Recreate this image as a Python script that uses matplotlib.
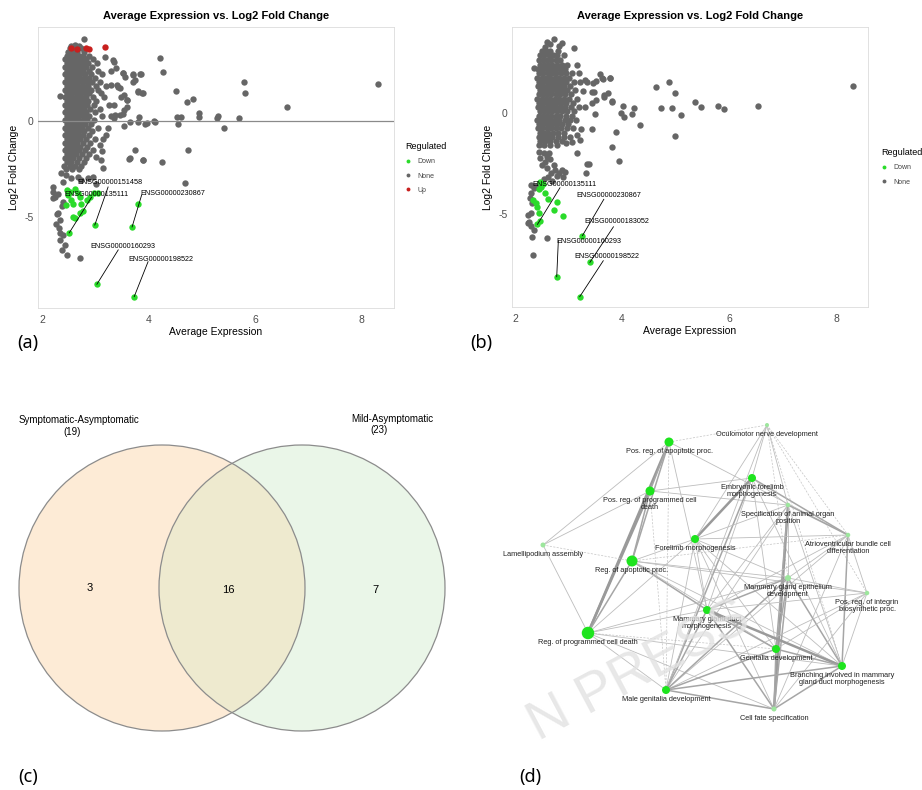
import numpy as np
import matplotlib.pyplot as plt
from matplotlib.patches import Circle
from matplotlib.lines import Line2D

plt.rcParams['font.family'] = ['Liberation Sans', 'DejaVu Sans']
plt.rcParams['axes.unicode_minus'] = False

W, H = 922, 790

# ---------------- panel (a): MA plot, first contrast ----------------
# dense body of the cloud, one row of average-expression values per fold-change level
cloud_a_rows = [
    (3.78, [2.53, 2.61, 2.73]),
    (3.58, [2.48, 2.57, 2.66, 2.79]),
    (3.39, [2.46, 2.53, 2.61, 2.69, 2.77, 2.89]),
    (3.19, [2.44, 2.51, 2.58, 2.66, 2.73, 2.82, 2.96]),
    (2.99, [2.47, 2.55, 2.62, 2.70, 2.78, 2.87, 3.03]),
    (2.80, [2.43, 2.50, 2.58, 2.65, 2.74, 2.83, 2.93]),
    (2.60, [2.46, 2.53, 2.61, 2.69, 2.77, 2.88, 3.06]),
    (2.41, [2.44, 2.51, 2.57, 2.64, 2.72, 2.80, 2.91, 3.13]),
    (2.21, [2.47, 2.55, 2.62, 2.70, 2.79, 2.88, 2.99]),
    (2.02, [2.43, 2.50, 2.58, 2.66, 2.75, 2.84, 2.94, 3.09]),
    (1.82, [2.46, 2.53, 2.61, 2.68, 2.77, 2.86, 3.01, 3.21]),
    (1.62, [2.44, 2.51, 2.59, 2.66, 2.73, 2.82, 2.92, 3.05]),
    (1.43, [2.47, 2.55, 2.63, 2.71, 2.80, 2.89, 3.11]),
    (1.23, [2.43, 2.50, 2.57, 2.65, 2.74, 2.83, 2.96, 3.16]),
    (1.03, [2.46, 2.54, 2.61, 2.69, 2.78, 2.87, 3.02]),
    (0.84, [2.44, 2.52, 2.59, 2.67, 2.75, 2.85, 2.97, 3.25]),
    (0.64, [2.47, 2.55, 2.62, 2.70, 2.79, 2.90, 3.08]),
    (0.44, [2.43, 2.50, 2.58, 2.66, 2.74, 2.83, 2.99]),
    (0.25, [2.46, 2.53, 2.61, 2.69, 2.78, 2.88, 3.13]),
    (0.05, [2.44, 2.51, 2.59, 2.67, 2.76, 2.85, 2.97]),
    (-0.15, [2.47, 2.55, 2.63, 2.71, 2.80, 2.92]),
    (-0.34, [2.43, 2.50, 2.58, 2.66, 2.75, 2.86, 3.05]),
    (-0.54, [2.46, 2.53, 2.61, 2.69, 2.79, 2.94]),
    (-0.74, [2.44, 2.51, 2.59, 2.67, 2.76, 2.88]),
    (-0.93, [2.47, 2.55, 2.63, 2.72, 2.82, 3.00]),
    (-1.13, [2.43, 2.50, 2.58, 2.66, 2.76, 2.90]),
    (-1.33, [2.46, 2.54, 2.62, 2.71, 2.84]),
    (-1.52, [2.44, 2.52, 2.60, 2.69, 2.80, 2.96]),
    (-1.72, [2.47, 2.55, 2.64, 2.75, 2.88]),
    (-1.92, [2.43, 2.51, 2.59, 2.70, 2.82]),
    (-2.12, [2.46, 2.55, 2.65, 2.78]),
    (-2.31, [2.42, 2.52, 2.62, 2.74]),
    (-2.51, [2.45, 2.57, 2.70]),
]

# scattered genes around and away from the cloud
spread_a = [
    (2.79, 4.25), (2.54, 3.90), (2.62, 3.95), (2.70, 3.88),
    (3.33, 3.16), (3.38, 2.76), (3.52, 2.47), (3.71, 2.38), (3.86, 2.42), (3.74, 2.12),
    (3.30, 2.60), (3.30, 1.87), (3.43, 1.78), (3.49, 1.26), (3.60, 1.09), (3.80, 1.52),
    (3.88, 1.43), (3.36, 0.83), (3.54, 0.57), (3.47, 0.32), (3.29, 0.24), (3.65, -0.03),
    (3.80, -0.07), (3.93, -0.16), (4.10, 0.00), (3.24, -0.38), (3.21, -0.73), (3.15, -0.95),
    (3.08, -1.24), (3.12, -1.55), (3.02, -1.85), (3.11, -2.02), (3.14, -2.45), (3.74, -1.50),
    (3.89, -2.02), (3.65, -1.90), (3.35, 3.07), (3.18, 3.30),
    (8.30, 1.92), (6.59, 0.72), (5.79, 2.02), (5.81, 1.44), (5.70, 0.15), (5.31, 0.26),
    (5.28, 0.17), (5.41, -0.38), (4.95, 0.41), (4.95, 0.20), (4.83, 1.14), (4.72, 0.98),
    (4.51, 1.57), (4.53, 0.20), (4.60, 0.20), (4.55, -0.16), (4.73, -1.50), (4.68, -3.20),
    (4.21, 3.26), (4.27, 2.54), (4.25, -2.14), (4.12, -0.03), (3.97, -0.08), (3.89, -2.00),
    (3.64, -1.97), (3.84, 2.44), (3.70, 2.44), (3.71, 2.02), (3.80, 1.57), (3.89, 1.47),
    (3.82, 0.20), (3.54, -0.26), (3.52, 2.50), (3.55, 2.30), (3.37, 0.30), (3.36, 0.15),
    (3.40, 1.87), (3.54, 1.35), (3.59, 1.10), (3.59, 0.70), (3.52, 0.35), (3.46, 1.70),
    (2.33, 1.30),
    (2.36, -2.71), (2.45, -2.78), (2.55, -2.97), (2.68, -2.88), (2.74, -3.06), (2.86, -2.97),
    (2.95, -2.88), (2.39, -3.14), (2.21, -3.40), (2.21, -3.66), (2.24, -3.92), (2.30, -3.80),
    (2.39, -4.18), (2.37, -4.43), (2.30, -4.78), (2.34, -5.13), (2.31, -5.56), (2.34, -5.82),
    (2.39, -5.91), (2.33, -6.17), (2.43, -6.43), (2.37, -6.70), (2.46, -6.95), (2.71, -7.11),
    (2.49, -3.75), (3.02, -3.25), (2.21, -4.00), (2.28, -4.80), (2.26, -5.35),
]

down_a = [
    (2.46, -3.57), (2.53, -3.66), (2.62, -3.54), (2.67, -3.75), (2.71, -3.92), (2.54, -4.09),
    (2.58, -4.30), (2.45, -4.35), (2.74, -4.30), (2.84, -4.09), (2.90, -3.92), (2.98, -3.75),
    (3.06, -3.71), (2.71, -4.78), (2.62, -5.04), (2.58, -4.96), (2.77, -4.66), (2.49, -3.83),
    (3.80, -4.30),
]
up_a = [(2.55, 3.77), (2.66, 3.72), (2.83, 3.77), (2.88, 3.72), (3.18, 3.82)]

# labelled genes: name, (A, M) of the gene, (A, M) of the label, end of the leader line
genes_a = [
    ('ENSG00000151458', (2.99, -5.39), (3.28, -3.21), (3.24, -3.42)),
    ('ENSG00000135111', (2.51, -5.80), (3.03, -3.83), (2.93, -3.95)),
    ('ENSG00000230867', (3.69, -5.49), (4.45, -3.75), (3.87, -3.83)),
    ('ENSG00000160293', (3.03, -8.46), (3.52, -6.51), (3.43, -6.68)),
    ('ENSG00000198522', (3.73, -9.10), (4.23, -7.17), (3.99, -7.29)),
]

# ---------------- panel (b): MA plot, second contrast ----------------
cloud_b_rows = [
    (3.05, [2.50, 2.58, 2.66, 2.80]),
    (2.85, [2.47, 2.55, 2.63, 2.71, 2.79, 2.92]),
    (2.62, [2.44, 2.52, 2.60, 2.68, 2.76, 2.85]),
    (2.40, [2.46, 2.54, 2.62, 2.70, 2.78, 2.87, 2.98]),
    (2.18, [2.43, 2.51, 2.59, 2.67, 2.75, 2.84, 2.93]),
    (1.97, [2.45, 2.53, 2.61, 2.69, 2.77, 2.86, 2.95, 3.06]),
    (1.76, [2.42, 2.50, 2.58, 2.66, 2.74, 2.82, 2.91, 3.01]),
    (1.55, [2.45, 2.53, 2.61, 2.69, 2.77, 2.86, 2.95, 3.10]),
    (1.34, [2.43, 2.51, 2.59, 2.67, 2.75, 2.83, 2.92, 3.03]),
    (1.13, [2.46, 2.54, 2.62, 2.70, 2.78, 2.87, 2.97, 3.12]),
    (0.92, [2.44, 2.52, 2.60, 2.68, 2.76, 2.85, 2.94, 3.05]),
    (0.71, [2.42, 2.50, 2.58, 2.66, 2.74, 2.82, 2.91, 3.01, 3.16]),
    (0.50, [2.45, 2.53, 2.61, 2.69, 2.77, 2.86, 2.96, 3.08]),
    (0.29, [2.43, 2.51, 2.59, 2.67, 2.75, 2.84, 2.94, 3.05, 3.20]),
    (0.08, [2.46, 2.54, 2.62, 2.70, 2.78, 2.87, 2.97, 3.10]),
    (-0.13, [2.44, 2.52, 2.60, 2.68, 2.76, 2.85, 2.95, 3.06]),
    (-0.34, [2.42, 2.50, 2.58, 2.66, 2.74, 2.83, 2.93, 3.03, 3.14]),
    (-0.55, [2.45, 2.53, 2.61, 2.69, 2.78, 2.88, 2.99]),
    (-0.76, [2.43, 2.51, 2.59, 2.67, 2.76, 2.86, 2.97, 3.09]),
    (-0.97, [2.46, 2.54, 2.62, 2.71, 2.81, 2.92]),
    (-1.18, [2.44, 2.52, 2.61, 2.70, 2.80, 2.91, 3.02]),
    (-1.39, [2.47, 2.56, 2.66, 2.77, 2.88]),
    (-1.60, [2.45, 2.55, 2.66, 2.79]),
]

spread_b = [
    (2.60, 3.53), (2.72, 3.66), (2.88, 3.45), (3.10, 3.23), (2.57, 3.28), (2.35, 2.24),
    (2.66, 3.40), (2.82, 3.30),
    (3.22, 1.55), (3.31, 1.63), (3.43, 1.05), (3.46, 1.50), (3.58, 1.92), (3.62, 1.73),
    (3.77, 1.75), (3.66, 0.81), (3.74, 0.97), (3.81, 0.53), (3.44, 0.48), (3.49, -0.07),
    (3.43, -0.81), (3.24, -0.80), (3.22, -1.34), (3.16, -1.10), (3.07, -1.42), (2.95, -1.50),
    (3.30, 0.30), (3.28, 1.10), (3.20, 2.00), (3.15, 2.40),
    (8.31, 1.35), (6.54, 0.35), (5.91, 0.18), (5.79, 0.36), (5.48, 0.31), (5.36, 0.56),
    (5.10, -0.10), (4.99, -1.14), (4.99, 0.97), (4.88, 1.55), (4.94, 0.26), (4.73, 0.26),
    (4.63, 1.27), (4.34, -0.59), (4.23, 0.23), (4.18, -0.07), (4.01, 0.35), (4.04, -0.18),
    (3.99, 0.00), (3.95, -2.36), (3.82, -1.67), (3.89, -0.92), (3.82, 0.60), (3.78, 1.72),
    (3.64, 1.68), (3.66, 0.90), (3.52, 1.60), (3.51, 0.67), (3.48, 1.06), (3.34, 1.55),
    (3.34, -2.52), (3.32, -2.95), (3.16, -2.00), (3.38, -2.54),
    (2.44, -1.91), (2.54, -2.00), (2.63, -2.00), (2.60, -2.16), (2.47, -2.24), (2.57, -2.41),
    (2.65, -2.28), (2.50, -2.57), (2.72, -2.57), (2.60, -2.74), (2.75, -2.82), (2.88, -2.82),
    (2.82, -2.99), (2.94, -2.90), (2.68, -2.99), (2.78, -3.10), (2.90, -3.15), (2.62, -3.15),
    (2.55, -3.25), (2.70, -3.35),
    (2.29, -3.98), (2.32, -4.47), (2.29, -4.97), (2.26, -5.38), (2.30, -5.60), (2.35, -5.79),
    (2.32, -6.12), (2.60, -6.20), (2.33, -7.03), (2.25, -5.46), (2.25, -5.05), (2.28, -4.20),
    (2.36, -3.70), (2.30, -3.55), (2.40, -3.60),
]

down_b = [
    (2.47, -3.40), (2.49, -3.65), (2.45, -3.78), (2.56, -3.98), (2.62, -4.27), (2.72, -4.80),
    (2.79, -4.39), (2.90, -5.10), (2.34, -4.31), (2.39, -4.47), (2.42, -4.64), (2.47, -5.33),
    (2.44, -4.97), (2.53, -3.50),
]

genes_b = [
    ('ENSG00000135111', (2.42, -5.51), (2.93, -3.53), (2.84, -3.70)),
    ('ENSG00000230867', (3.26, -6.07), (3.75, -4.06), (3.66, -4.27)),
    ('ENSG00000183052', (3.40, -7.39), (3.90, -5.38), (3.84, -5.63)),
    ('ENSG00000160293', (2.78, -8.10), (3.38, -6.37), (2.81, -6.32)),
    ('ENSG00000198522', (3.21, -9.09), (3.72, -7.11), (3.65, -7.31)),
]

# ---------------- panel (c): Venn diagram ----------------
venn_sets = ['Symptomatic-Asymptomatic', 'Mild-Asymptomatic']
venn_totals = [19, 23]
venn_counts = [3, 16, 7]   # left only, shared, right only

# ---------------- panel (d): GO term network ----------------
go_terms = [
    'Oculomotor nerve development',
    'Pos. reg. of apoptotic proc.',
    'Embryonic forelimb\nmorphogenesis',
    'Pos. reg. of programmed cell\ndeath',
    'Specification of animal organ\nposition',
    'Atrioventricular bundle cell\ndifferentiation',
    'Lamellipodium assembly',
    'Forelimb morphogenesis',
    'Reg. of apoptotic proc.',
    'Mammary gland epithelium\ndevelopment',
    'Pos. reg. of integrin\nbiosynthetic proc.',
    'Mammary gland duct\nmorphogenesis',
    'Reg. of programmed cell death',
    'Genitalia development',
    'Branching involved in mammary\ngland duct morphogenesis',
    'Male genitalia development',
    'Cell fate specification',
]
# layout positions of the terms
node_x = [767, 669, 752, 650, 788, 848, 543, 695, 632, 788, 867, 707, 588, 776, 842, 666, 774]
node_y = [425, 442, 478, 491, 505, 535, 545, 539, 561, 578, 593, 610, 633, 649, 666, 690, 709]
# node size (gene count) and whether the term is enriched strongly
node_size = [4, 9, 8, 9, 4.5, 4.5, 5, 8, 11, 6, 4.5, 8, 12.5, 8, 8, 8, 5]
node_strong = [0, 1, 1, 1, 0, 0, 0, 1, 1, 0, 0, 1, 1, 1, 1, 1, 0]

# edges: (term, term, overlap weight); weight 0 = faint dashed link
go_edges = [
    (1, 12, 3), (3, 12, 3), (1, 3, 2), (1, 8, 2), (3, 8, 2), (8, 12, 2),
    (6, 1, 1), (6, 3, 1), (6, 8, 0), (6, 12, 1), (1, 0, 0), (1, 15, 0),
    (3, 2, 1), (3, 4, 1), (3, 15, 0), (1, 11, 1), (1, 5, 1),
    (8, 7, 1), (8, 11, 2), (8, 13, 1), (8, 14, 1), (8, 9, 1), (8, 5, 0), (8, 10, 1),
    (12, 11, 1), (12, 13, 0), (12, 14, 1), (12, 15, 1), (12, 16, 1), (12, 9, 1), (12, 7, 1),
    (2, 7, 3), (2, 5, 2), (2, 15, 2), (2, 11, 1), (2, 13, 1), (2, 14, 1), (2, 0, 1), (2, 4, 1),
    (0, 7, 1), (0, 15, 1), (0, 5, 0), (0, 10, 0), (0, 4, 1), (0, 9, 0), (0, 14, 0),
    (4, 16, 3), (4, 13, 2), (4, 5, 2), (4, 15, 1), (4, 11, 1), (4, 14, 1), (4, 7, 1), (4, 9, 1),
    (5, 7, 1), (5, 11, 1), (5, 14, 2), (5, 10, 1), (5, 15, 1), (5, 16, 1), (5, 9, 1),
    (7, 9, 1), (7, 13, 1), (7, 14, 1), (7, 15, 1), (7, 16, 1), (7, 11, 1),
    (9, 16, 2), (9, 13, 2), (9, 14, 2), (9, 15, 2), (9, 11, 2), (9, 10, 1),
    (10, 14, 1), (10, 15, 1), (10, 11, 1), (10, 16, 1), (10, 13, 1),
    (11, 13, 2), (11, 14, 3), (11, 15, 2), (11, 16, 2),
    (13, 14, 2), (13, 15, 2), (13, 16, 2), (14, 15, 2), (14, 16, 2), (15, 16, 2),
]

GRAY = '#666666'
GREEN = '#2ADB2A'
RED = '#C8201E'
DOT = 21


def box(x0, y0, x1, y1):
    """Pixel box (origin top-left) to a figure-fraction rectangle."""
    return [x0 / W, 1 - y1 / H, (x1 - x0) / W, (y1 - y0) / H]


def expand(rows):
    pts = [(x, y) for y, xs in rows for x in xs]
    return np.array(pts)


def ma_panel(ax, rows, spread, down, up, genes, xlim, ylim, zero_line):
    body = np.vstack([expand(rows), np.array(spread)])
    ax.scatter(body[:, 0], body[:, 1], s=DOT, color=GRAY, linewidths=0, zorder=2)
    d = np.array(down + [g[1] for g in genes])
    ax.scatter(d[:, 0], d[:, 1], s=DOT, color=GREEN, linewidths=0, zorder=3)
    if up:
        u = np.array(up)
        ax.scatter(u[:, 0], u[:, 1], s=DOT, color=RED, linewidths=0, zorder=3)
    if zero_line:
        ax.axhline(0, color='#8a8a8a', lw=0.9, zorder=4)
    for name, (gx, gy), (tx, ty), (ex, ey) in genes:
        ax.plot([gx, ex], [gy, ey], color='black', lw=0.6, zorder=5)
        ax.text(tx, ty, name, fontsize=5.2, ha='center', va='center', zorder=6)
    ax.set_xlim(*xlim)
    ax.set_ylim(*ylim)
    ax.set_xticks([2, 4, 6, 8])
    ax.set_yticks([-5, 0])
    ax.tick_params(length=0, labelsize=7.5, labelcolor='#4d4d4d', pad=3)
    ax.tick_params(axis='x', pad=5)
    for s in ax.spines.values():
        s.set_color('#dcdcdc')
        s.set_linewidth(0.6)
    ax.set_title('Average Expression vs. Log2 Fold Change', fontsize=8, fontweight='bold', pad=6)
    ax.set_xlabel('Average Expression', fontsize=7.5)
    ax.set_ylabel('Log2 Fold Change', fontsize=7.5)
    ax.xaxis.set_label_coords(0.5, -0.068)


def regulated_legend(fig, x, y, cats):
    colors = {'Down': GREEN, 'None': GRAY, 'Up': RED}
    handles = [Line2D([], [], ls='none', marker='o', ms=2.8, mew=0, color=colors[c], label=c)
               for c in cats]
    leg = fig.legend(handles=handles, title='Regulated', loc='upper left',
                     bbox_to_anchor=(x / W, 1 - y / H), frameon=False, fontsize=5,
                     title_fontsize=6.5, handlelength=0.9, handletextpad=0.9,
                     labelspacing=1.05, borderpad=0, borderaxespad=0, alignment='left')
    for t in leg.get_texts():
        t.set_color('#444444')


fig = plt.figure(figsize=(W / 100, H / 100), dpi=100)

ax_a = fig.add_axes(box(38, 27, 394, 308))
ma_panel(ax_a, cloud_a_rows, spread_a, down_a, up_a, genes_a,
         (1.925, 8.604), (-9.69, 4.87), True)
ax_a.yaxis.set_label_coords(-0.052, 0.5)
regulated_legend(fig, 405, 142, ['Down', 'None', 'Up'])

ax_b = fig.add_axes(box(512, 27, 868, 307))
ma_panel(ax_b, cloud_b_rows, spread_b, down_b, [], genes_b,
         (1.944, 8.598), (-9.60, 4.26), False)
ax_b.yaxis.set_label_coords(-0.052, 0.5)
regulated_legend(fig, 881, 148, ['Down', 'None'])

# Venn diagram
ax_c = fig.add_axes(box(0, 380, 460, 790))
ax_c.set_xlim(0, 460)
ax_c.set_ylim(790, 380)
ax_c.axis('off')
left = Circle((162, 588), 143, facecolor='#FDEBD6', edgecolor='none', zorder=1)
right = Circle((302, 588), 143, facecolor='#EAF6E8', edgecolor='none', zorder=1)
ax_c.add_patch(left)
ax_c.add_patch(right)
both = Circle((302, 588), 143, facecolor='#EEEACF', edgecolor='none', zorder=2)
ax_c.add_patch(both)
both.set_clip_path(left)
for cx in (162, 302):
    ax_c.add_patch(Circle((cx, 588), 143, facecolor='none', edgecolor='#8c8c8c', lw=0.9, zorder=3))
ax_c.text(90, 588, str(venn_counts[0]), fontsize=8, ha='center', va='center')
ax_c.text(228, 590, str(venn_counts[1]), fontsize=8, ha='center', va='center')
ax_c.text(375, 590, str(venn_counts[2]), fontsize=8, ha='center', va='center')
ax_c.text(79, 420, venn_sets[0], fontsize=7, ha='center', va='center')
ax_c.text(72, 432, f'({venn_totals[0]})', fontsize=7, ha='center', va='center')
ax_c.text(392, 419, venn_sets[1], fontsize=7, ha='center', va='center')
ax_c.text(379, 430, f'({venn_totals[1]})', fontsize=7, ha='center', va='center')

# GO network
ax_d = fig.add_axes(box(470, 400, 922, 760))
ax_d.set_xlim(470, 922)
ax_d.set_ylim(760, 400)
ax_d.axis('off')
edge_style = {0: (0.5, '#c4c4c4', (0, (3, 2))), 1: (0.6, '#bdbdbd', '-'),
              2: (1.1, '#a6a6a6', '-'), 3: (1.8, '#9a9a9a', '-')}
for i, j, w in go_edges:
    lw, col, ls = edge_style[w]
    ax_d.plot([node_x[i], node_x[j]], [node_y[i], node_y[j]], color=col, lw=lw, ls=ls,
              zorder=1, solid_capstyle='round')
sizes = [(d * 0.72) ** 2 for d in node_size]
colors = ['#1EE41E' if s else '#9DE69D' for s in node_strong]
ax_d.scatter(node_x, node_y, s=sizes, c=colors, linewidths=0, zorder=3)
for name, x, y in zip(go_terms, node_x, node_y):
    ax_d.text(x, y + 6, name, fontsize=5.3, ha='center', va='top', color='#222222',
              linespacing=0.95, zorder=4)

# watermark
fig.text(640 / W, 1 - 672 / H, 'N PRESS', fontsize=40, color='#e2e2e2', alpha=0.8,
         rotation=28, ha='center', va='center', zorder=10)

for lab, x, y in [('(a)', 17, 343), ('(b)', 470, 343), ('(c)', 18, 777), ('(d)', 519, 777)]:
    fig.text(x / W, 1 - y / H, lab, fontsize=13, family='Noto Sans', ha='left', va='center')

fig.savefig('out.png', dpi=100)
